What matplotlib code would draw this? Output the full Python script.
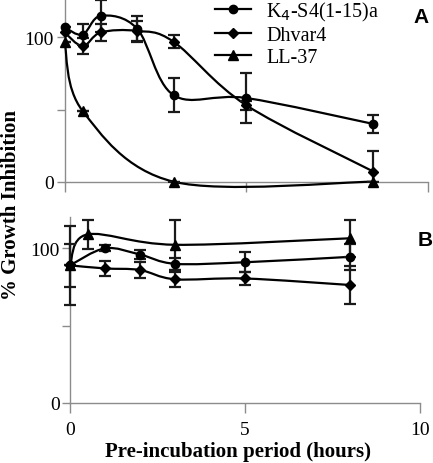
"""
Growth inhibition after pre-incubation, two panels (A and B)
"""
import matplotlib
matplotlib.use("Agg")
import matplotlib.pyplot as plt
from matplotlib.path import Path
from matplotlib.patches import PathPatch
from matplotlib.lines import Line2D

# panel A
a_k4_x = [0, 0.5, 1, 2, 3, 5, 8.5]
a_k4_y = [107, 102, 115, 106, 60, 58, 40]
a_k4_err = [0, 7.5, 11, 9, 12, 17.5, 6]
a_dh_x = [0, 0.5, 1, 2, 3, 5, 8.5]
a_dh_y = [103.5, 94, 103.5, 104.5, 97, 53, 7]
a_dh_err = [0, 5.5, 6, 7, 4.5, 3, 14]
a_ll_x = [0, 0.5, 3, 8.5]
a_ll_y = [97, 49, 0, 0]
a_ll_err = [0, 0, 0, 0]

# panel B
b_k4_x = [0, 1, 2, 3, 5, 8]
b_k4_y = [89, 100, 96, 90, 91, 94.5]
b_k4_err = [13.7, 2, 3, 4, 6.5, 8.6]
b_dh_x = [0, 1, 2, 3, 5, 8]
b_dh_y = [89, 87, 86, 80, 80.5, 76.3]
b_dh_err = [0, 5, 5, 5, 4, 12]
b_ll_x = [0, 0.5, 3, 8]
b_ll_y = [89, 109, 102.3, 106.5]
b_ll_err = [25.5, 9.5, 16, 12]

names = ["K$_4$-S4(1-15)a", "Dhvar4", "LL-37"]
markers = ["o", "D", "^"]
msizes = [6, 5.5, 7]

SERIF = "Liberation Serif"
GREY = "#8c8c8c"


def smooth_path(xs, ys):
    """
    Excel-like smoothed line: cubic Bezier through every point
    """
    pts = list(zip(xs, ys))
    verts = [pts[0]]
    codes = [Path.MOVETO]
    n = len(pts)
    for i in range(n - 1):
        p0 = pts[max(i - 1, 0)]
        p1 = pts[i]
        p2 = pts[i + 1]
        p3 = pts[min(i + 2, n - 1)]
        c1 = (p1[0] + (p2[0] - p0[0]) / 6, p1[1] + (p2[1] - p0[1]) / 6)
        c2 = (p2[0] - (p3[0] - p1[0]) / 6, p2[1] - (p3[1] - p1[1]) / 6)
        verts += [c1, c2, p2]
        codes += [Path.CURVE4] * 3
    return Path(verts, codes)


def draw_series(ax, xs, ys, errs, marker, ms, clip_err):
    ax.add_patch(PathPatch(smooth_path(xs, ys), fill=False, lw=1.6,
                           edgecolor="black", clip_on=False, zorder=3))
    _, caps, bars = ax.errorbar(xs, ys, yerr=errs, fmt="none",
                                ecolor="#1a1a1a", elinewidth=1.6, capsize=4.5,
                                capthick=1.6, zorder=4)
    for art in list(caps) + list(bars):
        art.set_clip_on(clip_err)
    ax.plot(xs, ys, ls="none", marker=marker, ms=ms, color="black",
            clip_on=False, zorder=5)


def style_axis(ax, ymax, xlabels):
    ax.set_xlim(0, 10)
    ax.set_ylim(0, ymax)
    for side in ("top", "right"):
        ax.spines[side].set_visible(False)
    for side in ("left", "bottom"):
        ax.spines[side].set_color(GREY)
        ax.spines[side].set_linewidth(1.0)
    ax.set_yticks([0, 50, 100])
    ax.set_yticklabels(["0", "", "100"], fontfamily=SERIF, fontsize=14)
    ax.set_xticks([0, 5, 10])
    if xlabels:
        ax.set_xticklabels(["0", "5", "10"], fontfamily=SERIF, fontsize=14)
    else:
        ax.set_xticklabels([])
    ax.tick_params(axis="y", direction="out", length=6, width=1,
                   color=GREY, pad=1.5)
    ax.tick_params(axis="x", direction="out", length=7, width=1,
                   color=GREY, pad=6)


fig = plt.figure(figsize=(4.33, 4.64), dpi=100)
W, H = 433.0, 464.0

ax_a = fig.add_axes([64.5 / W, (H - 182.7) / H, 363.5 / W, 181.8 / H])
ax_b = fig.add_axes([70 / W, (H - 404) / H, 350 / W, 185.6 / H])
for a in (ax_a, ax_b):
    a.patch.set_visible(False)

style_axis(ax_a, 126, False)
style_axis(ax_b, 120, True)

draw_series(ax_a, a_k4_x, a_k4_y, a_k4_err, markers[0], msizes[0], True)
draw_series(ax_a, a_dh_x, a_dh_y, a_dh_err, markers[1], msizes[1], True)
draw_series(ax_a, a_ll_x, a_ll_y, a_ll_err, markers[2], msizes[2], True)

draw_series(ax_b, b_k4_x, b_k4_y, b_k4_err, markers[0], msizes[0], False)
draw_series(ax_b, b_dh_x, b_dh_y, b_dh_err, markers[1], msizes[1], False)
draw_series(ax_b, b_ll_x, b_ll_y, b_ll_err, markers[2], msizes[2], False)

handles = [Line2D([], [], color="black", lw=1.6, marker=m, ms=s)
           for m, s in zip(markers, msizes)]
ax_a.legend(handles, names, loc="upper left",
            bbox_to_anchor=(215 / W, 1 - 1 / H), bbox_transform=fig.transFigure,
            frameon=False, prop={"family": SERIF, "size": 14.5},
            handlelength=1.8, handletextpad=0.75, labelspacing=0.15,
            borderpad=0, borderaxespad=0)

fig.text(421.5 / W, 1 - 17.5 / H, "A", fontfamily="Liberation Sans",
         fontweight="bold", fontsize=15, ha="center", va="center")
fig.text(425 / W, 1 - 240.5 / H, "B", fontfamily="Liberation Sans",
         fontweight="bold", fontsize=15, ha="center", va="center")

fig.text(21 / W, 1 - 205 / H, "% Growth Inhibition", rotation=90,
         fontfamily=SERIF, fontweight="bold", fontsize=15,
         ha="right", va="center")
fig.text(238 / W, 1 - 457 / H, "Pre-incubation period (hours)",
         fontfamily=SERIF, fontweight="bold", fontsize=15,
         ha="center", va="baseline")

fig.savefig("out.png", dpi=100)
